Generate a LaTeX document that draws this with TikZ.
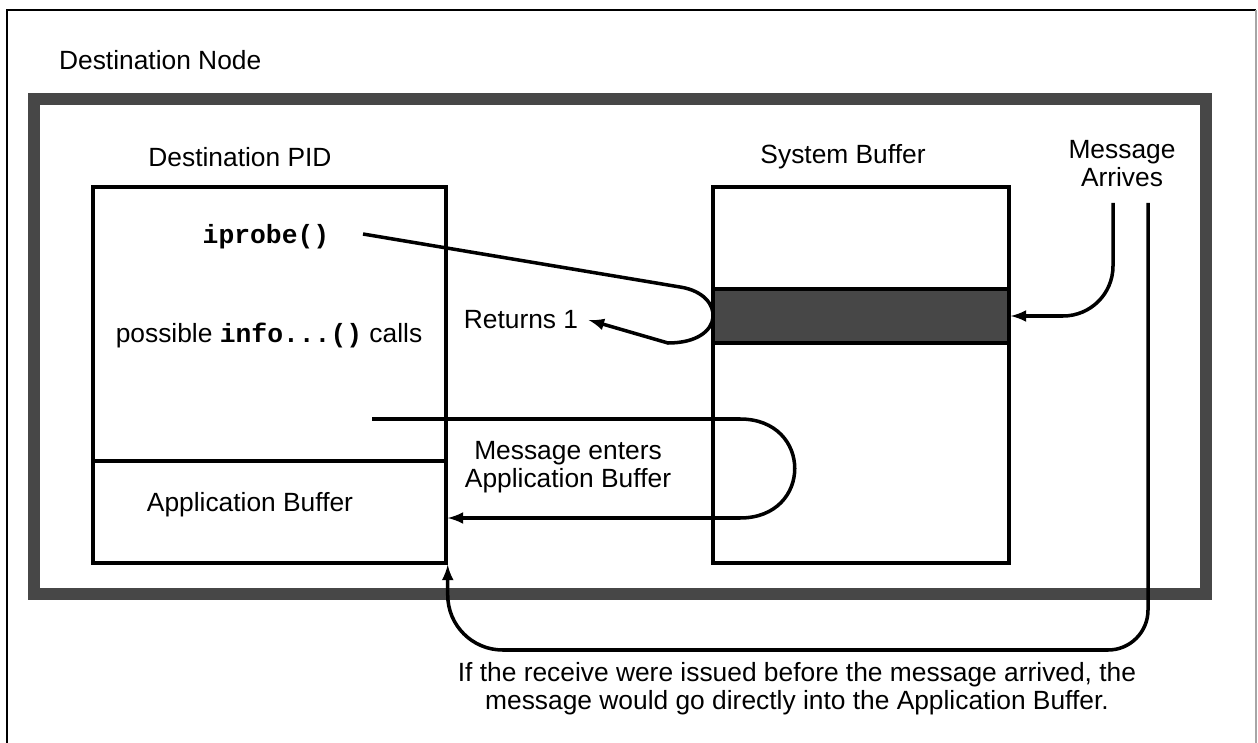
\documentclass[tikz,border=0pt]{standalone}
\usepackage{fontspec}
\setmainfont{Liberation Sans}
\setmonofont{Liberation Mono}
\usetikzlibrary{arrows, positioning, calc}

\begin{document}
\begin{tikzpicture}[x=0.02cm, y=-0.02cm,
  label/.style={font=\fontsize{15}{16}\selectfont, align=center, inner sep=1pt},
  buffer/.style={draw, line width=2pt, minimum width=#1},
  arrow/.style={->, line width=2pt, >=latex},
  shade/.style={black!72}
]
  \useasboundingbox (0,0) rectangle (1258,743);

  % outer node frame, open at the bottom
  \draw[line width=1.4pt] (7,743) -- (7,10) -- (1256,10);
  \draw[black!35, line width=0.8pt] (1256,10) -- (1256,743);
  \node[label, anchor=west] (dnode) at (57,60) {Destination Node};
  \draw[shade, line width=0.24cm] (34,99) rectangle (1206,594);

  % destination process
  \node[buffer=7.06cm, minimum height=7.52cm] (pid) at (269.5,375) {};
  \node[buffer=7.06cm, minimum height=2.04cm] (appbuf) at (269.5,512) {};
  \node[label] (pidlbl) at (240,157) {Destination PID};
  \node[label] (probe) at (266,237) {\textbf{\texttt{iprobe()}}};
  \node[label] (info) at (269,335) {possible \textbf{\texttt{info...()}} calls};
  \node[label] (appbuflbl) at (250,505) {Application Buffer};

  % system buffer
  \node[buffer=5.92cm, minimum height=7.52cm] (sysbuf) at (861,375) {};
  \node[buffer=5.92cm, minimum height=1.08cm, fill=black!72] (slot) at (861,316) {};
  \node[label] (sblbl) at (843,157) {System Buffer};
  \node[label] (arrives) at (1122,164) {Message\\Arrives};

  \node[label, outer sep=5pt] (ret) at (521,320) {Returns 1};
  \node[label] (enters) at (568,467) {Message enters\\Application Buffer};
  \node[label] (note) at (797,689) {If the receive were issued before the message arrived, the\\message would go directly into the Application Buffer.};

  \coordinate (probeout) at (363,234);
  \coordinate (copyout) at (372,419);
  \coordinate (arrA) at (1113,203);
  \coordinate (arrB) at (1148,203);
  \coordinate (loopbot) at (800,650);

  \draw[arrow] (probeout) -- (680,287) .. controls (726,294) and (726,343) .. (668,343) -- (ret.east);
  \draw[arrow] (copyout) -- (740,419) .. controls (813,419) and (813,518) .. (740,518) -- ($(appbuf.east)+(0,6)$);
  \draw[arrow, rounded corners=1cm] (arrA) |- (slot.east);
  \draw[arrow] (arrB) [rounded corners=0.8cm] |- (loopbot) [rounded corners=1.1cm] -| (pid.south east);
\end{tikzpicture}
\end{document}
